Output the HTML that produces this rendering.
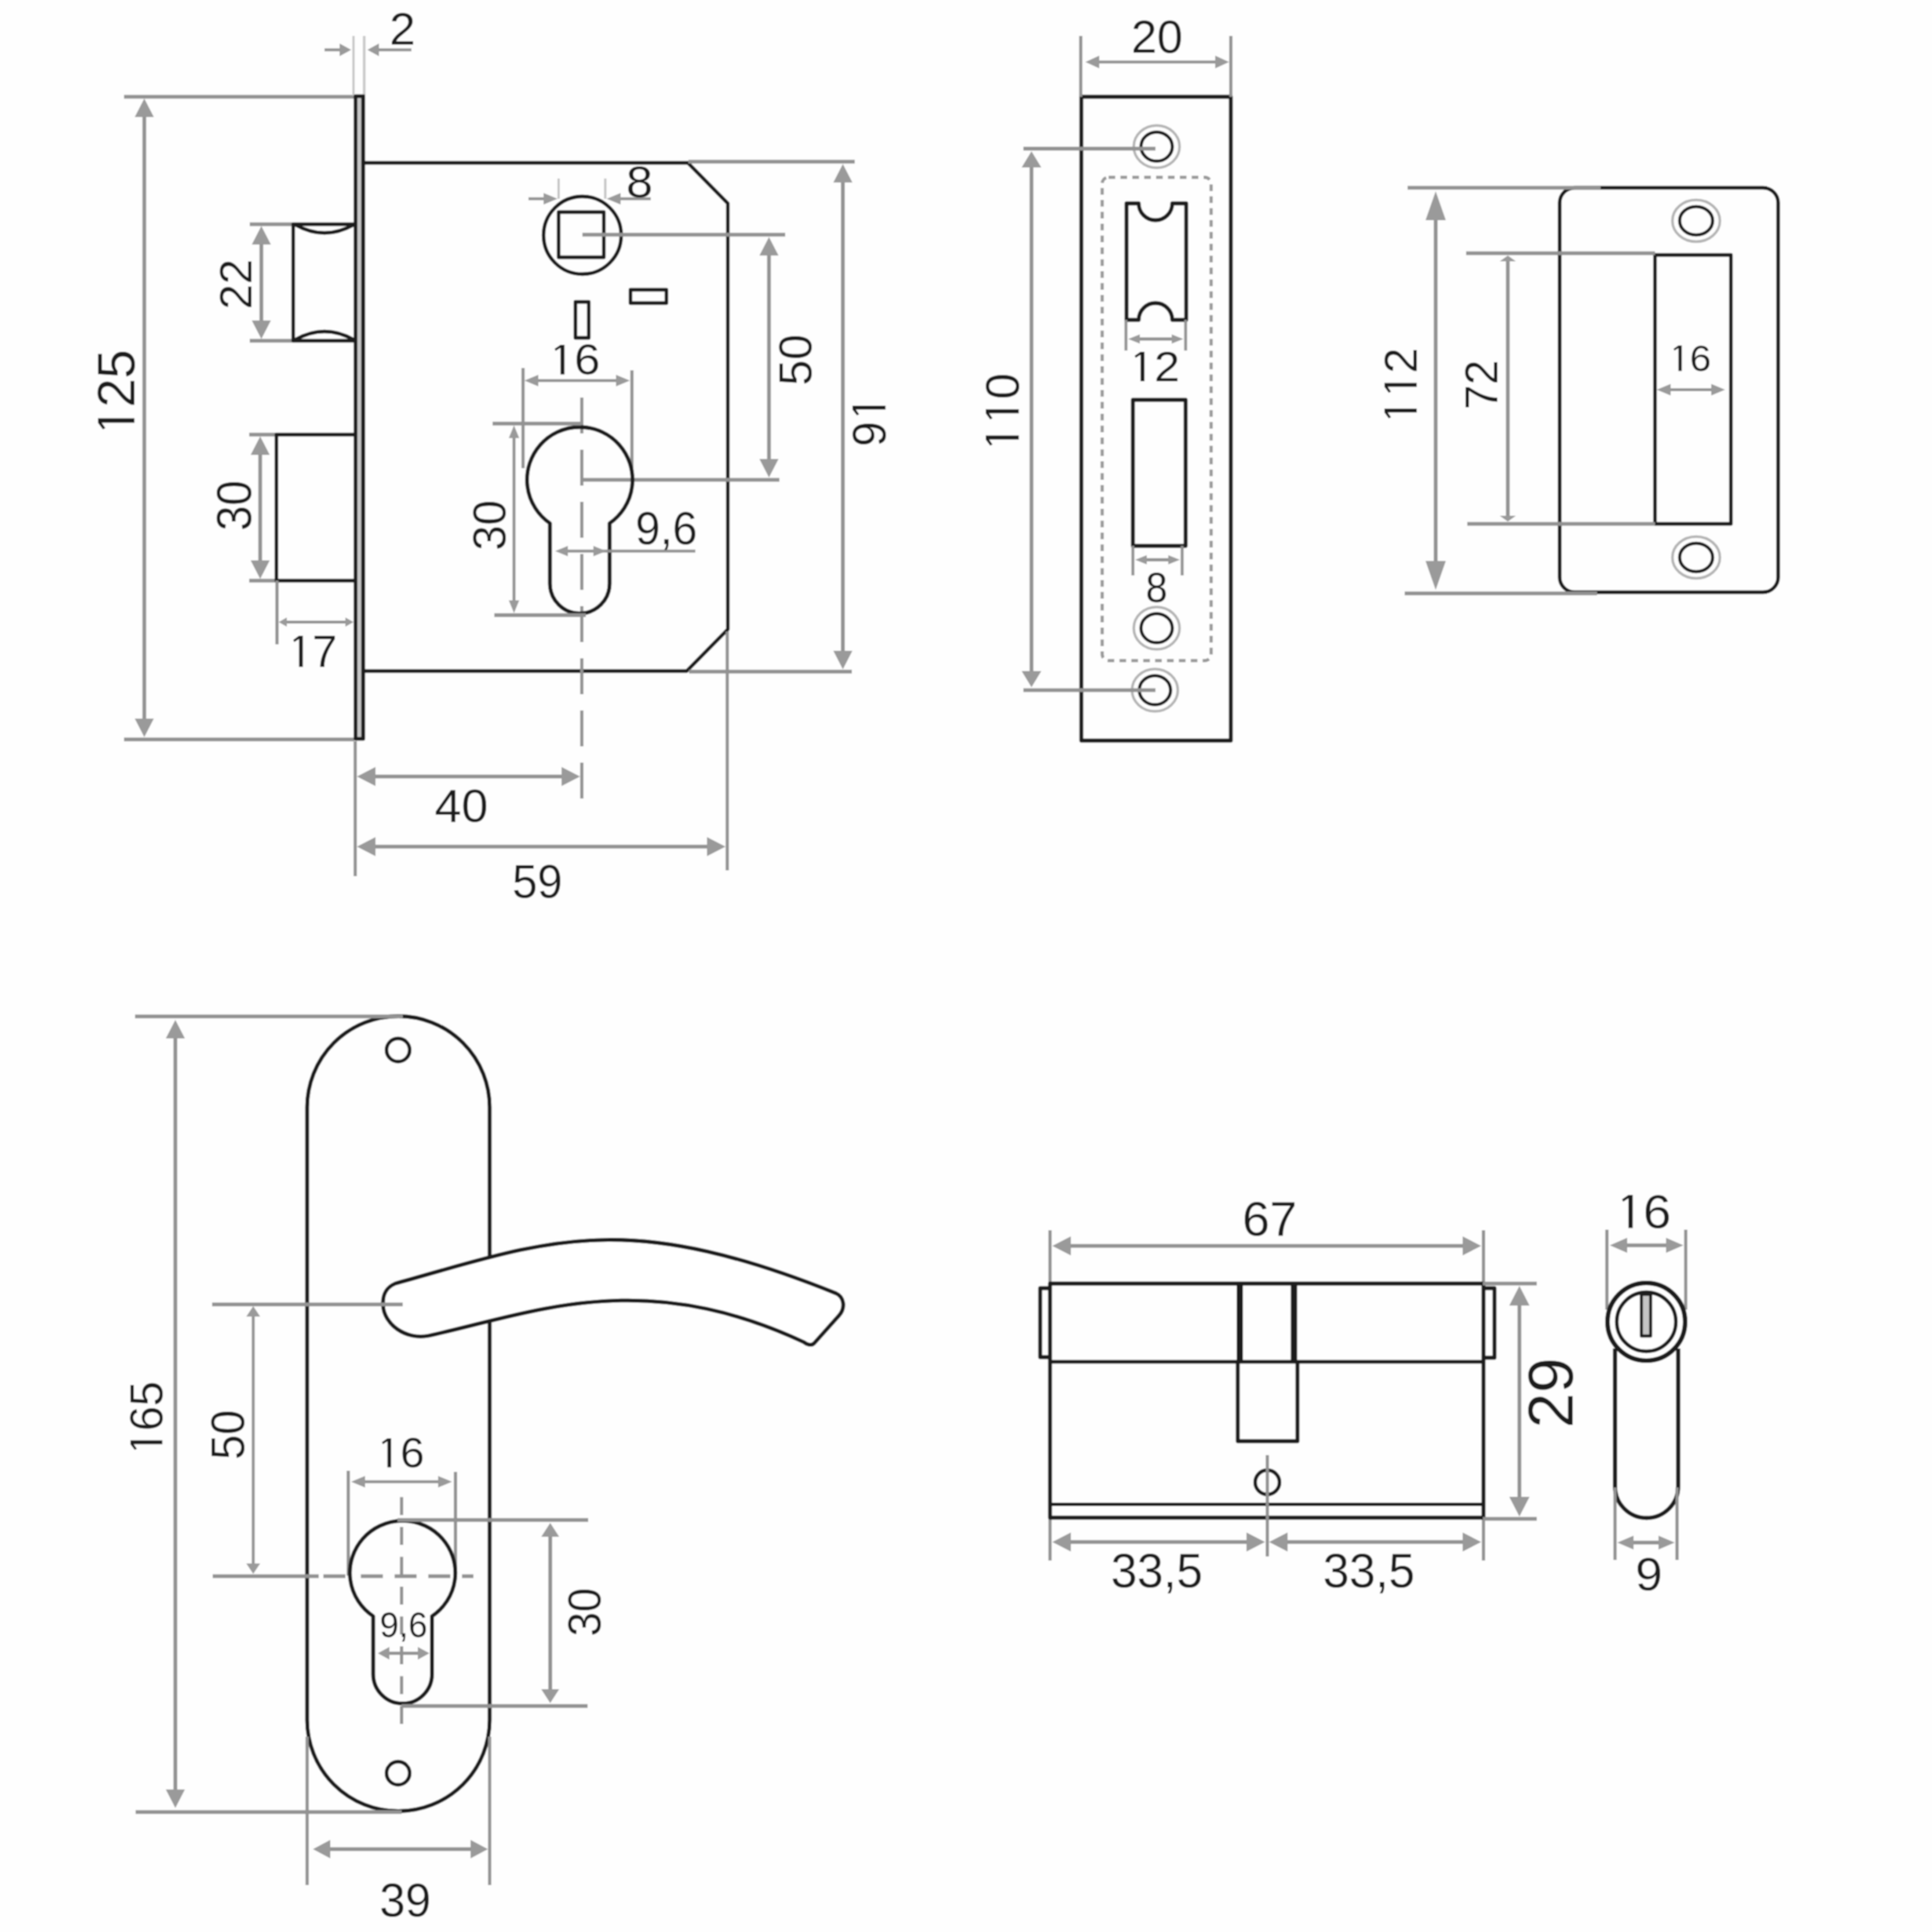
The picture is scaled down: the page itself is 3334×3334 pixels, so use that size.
<!DOCTYPE html>
<html><head><meta charset="utf-8"><style>
html,body{margin:0;padding:0;background:#fff;}
svg{display:block;}
text{font-family:"Liberation Sans",sans-serif;fill:#1e1e1e;}
</style></head><body>
<svg width="3334" height="3334" viewBox="0 0 3334 3334">
<defs><filter id="bl" x="0" y="0" width="3334" height="3334" filterUnits="userSpaceOnUse"><feGaussianBlur stdDeviation="1.3"/></filter></defs>
<rect width="3334" height="3334" fill="#fefefe"/>
<g filter="url(#bl)">
<rect width="3334" height="3334" fill="#fefefe"/>
<line x1="214" y1="167" x2="611" y2="167" stroke="#929292" stroke-width="6.5" />
<line x1="214" y1="1276" x2="611" y2="1276" stroke="#929292" stroke-width="6.5" />
<line x1="249" y1="189.2" x2="249" y2="1252.8" stroke="#929292" stroke-width="6.5" />
<polygon points="249.0,170.0 232.5,202.0 265.5,202.0" fill="#9a9a9a"/>
<polygon points="249.0,1272.0 232.5,1240.0 265.5,1240.0" fill="#9a9a9a"/>
<line x1="610" y1="62" x2="610" y2="165" stroke="#c8c8c8" stroke-width="4" />
<line x1="628.5" y1="62" x2="628.5" y2="165" stroke="#c8c8c8" stroke-width="4.5" />
<line x1="560" y1="86" x2="590" y2="86" stroke="#929292" stroke-width="5" />
<polygon points="606.0,86.0 586.0,75.0 586.0,97.0" fill="#9a9a9a"/>
<line x1="650" y1="86" x2="710" y2="86" stroke="#929292" stroke-width="5" />
<polygon points="634.0,86.0 654.0,75.0 654.0,97.0" fill="#9a9a9a"/>
<rect x="614" y="166" width="12" height="1109" fill="#c8c8c8"/>
<path d="M613.5,166 H627 V1275 H613.5 Z" stroke="#1c1c1c" stroke-width="6.3" fill="none" stroke-linejoin="round" />
<line x1="626.5" y1="166" x2="626.5" y2="1275" stroke="#1c1c1c" stroke-width="6" />
<path d="M628,281 H1187 L1256,351 V1086 L1185,1158 H628" stroke="#1c1c1c" stroke-width="6.3" fill="none" stroke-linejoin="round" />
<line x1="431" y1="387" x2="506" y2="387" stroke="#929292" stroke-width="6.5" />
<line x1="431" y1="588" x2="506" y2="588" stroke="#929292" stroke-width="6.5" />
<line x1="451" y1="409.2" x2="451" y2="565.8" stroke="#929292" stroke-width="6.5" />
<polygon points="451.0,390.0 434.5,422.0 467.5,422.0" fill="#9a9a9a"/>
<polygon points="451.0,585.0 434.5,553.0 467.5,553.0" fill="#9a9a9a"/>
<path d="M612,387 H506 V588 H612" stroke="#1c1c1c" stroke-width="6.3" fill="none" stroke-linejoin="round" />
<path d="M510,388 Q560,416 610,388" stroke="#1c1c1c" stroke-width="6.3" fill="none" stroke-linejoin="round" />
<path d="M510,586 Q560,558 610,586" stroke="#1c1c1c" stroke-width="6.3" fill="none" stroke-linejoin="round" />
<line x1="430" y1="750" x2="477" y2="750" stroke="#929292" stroke-width="6.5" />
<line x1="430" y1="1002" x2="477" y2="1002" stroke="#929292" stroke-width="6.5" />
<line x1="449" y1="772.2" x2="449" y2="979.8" stroke="#929292" stroke-width="6.5" />
<polygon points="449.0,753.0 432.5,785.0 465.5,785.0" fill="#9a9a9a"/>
<polygon points="449.0,999.0 432.5,967.0 465.5,967.0" fill="#9a9a9a"/>
<path d="M612,750 H477 V1002 H612" stroke="#1c1c1c" stroke-width="6.3" fill="none" stroke-linejoin="round" />
<line x1="478" y1="1002" x2="478" y2="1112" stroke="#929292" stroke-width="5.5" />
<line x1="490" y1="1073.5" x2="600" y2="1073.5" stroke="#929292" stroke-width="5" />
<polygon points="481.0,1073.5 495.0,1065.5 495.0,1081.5" fill="#9a9a9a"/>
<polygon points="610.0,1073.5 596.0,1065.5 596.0,1081.5" fill="#9a9a9a"/>
<line x1="613" y1="1279" x2="613" y2="1512" stroke="#929292" stroke-width="5.5" />
<line x1="1255" y1="1090" x2="1255" y2="1502" stroke="#929292" stroke-width="5.5" />
<line x1="635.2" y1="1340" x2="981.8" y2="1340" stroke="#929292" stroke-width="6.5" />
<polygon points="616.0,1340.0 648.0,1323.5 648.0,1356.5" fill="#9a9a9a"/>
<polygon points="1001.0,1340.0 969.0,1323.5 969.0,1356.5" fill="#9a9a9a"/>
<line x1="635.2" y1="1461" x2="1232.8" y2="1461" stroke="#929292" stroke-width="6.5" />
<polygon points="616.0,1461.0 648.0,1444.5 648.0,1477.5" fill="#9a9a9a"/>
<polygon points="1252.0,1461.0 1220.0,1444.5 1220.0,1477.5" fill="#9a9a9a"/>
<line x1="1004" y1="686" x2="1004" y2="1378" stroke="#929292" stroke-width="5.5" stroke-dasharray="62 28"/>
<line x1="1188" y1="279" x2="1475" y2="279" stroke="#929292" stroke-width="6.5" />
<line x1="1189" y1="1159" x2="1470" y2="1159" stroke="#929292" stroke-width="6.5" />
<line x1="1454.5" y1="302.2" x2="1454.5" y2="1135.8" stroke="#929292" stroke-width="6.5" />
<polygon points="1454.5,283.0 1438.0,315.0 1471.0,315.0" fill="#9a9a9a"/>
<polygon points="1454.5,1155.0 1438.0,1123.0 1471.0,1123.0" fill="#9a9a9a"/>
<circle cx="1005" cy="406" r="67" stroke="#1c1c1c" stroke-width="6.3" fill="none"/>
<path d="M964,366 H1042 V444 H964 Z" stroke="#1c1c1c" stroke-width="6.3" fill="none" stroke-linejoin="round" />
<line x1="964" y1="308" x2="964" y2="343" stroke="#c4c4c4" stroke-width="4" />
<line x1="1044.5" y1="308" x2="1044.5" y2="343" stroke="#c4c4c4" stroke-width="4" />
<line x1="912" y1="343" x2="940" y2="343" stroke="#929292" stroke-width="5" />
<polygon points="962.0,343.0 938.0,333.0 938.0,353.0" fill="#9a9a9a"/>
<line x1="1070" y1="343" x2="1123" y2="343" stroke="#929292" stroke-width="5" />
<polygon points="1047.0,343.0 1071.0,333.0 1071.0,353.0" fill="#9a9a9a"/>
<line x1="1005" y1="405" x2="1355" y2="405" stroke="#929292" stroke-width="6.5" />
<line x1="1005" y1="828" x2="1345" y2="828" stroke="#929292" stroke-width="6.5" />
<line x1="1327" y1="428.2" x2="1327" y2="804.8" stroke="#929292" stroke-width="6.5" />
<polygon points="1327.0,409.0 1310.5,441.0 1343.5,441.0" fill="#9a9a9a"/>
<polygon points="1327.0,824.0 1310.5,792.0 1343.5,792.0" fill="#9a9a9a"/>
<path d="M1088,500 H1150 V523 H1088 Z" stroke="#1c1c1c" stroke-width="6.3" fill="none" stroke-linejoin="round" />
<path d="M993,521 H1016 V583 H993 Z" stroke="#1c1c1c" stroke-width="6.3" fill="none" stroke-linejoin="round" />
<line x1="902.6" y1="635" x2="902.6" y2="808" stroke="#929292" stroke-width="5.5" />
<line x1="1090.5" y1="639" x2="1090.5" y2="815" stroke="#929292" stroke-width="5.5" />
<line x1="919.4" y1="656.7" x2="1072.6" y2="656.7" stroke="#929292" stroke-width="5" />
<polygon points="905.0,656.7 929.0,646.7 929.0,666.7" fill="#9a9a9a"/>
<polygon points="1087.0,656.7 1063.0,646.7 1063.0,666.7" fill="#9a9a9a"/>
<path d="M949,903 A91,91 0 1 1 1052,903 V1007 A51.5,51.5 0 0 1 949,1007 Z" stroke="#1c1c1c" stroke-width="6.8" fill="none" stroke-linejoin="round" />
<line x1="850" y1="731" x2="1003" y2="731" stroke="#929292" stroke-width="6.5" />
<line x1="853" y1="1061.5" x2="1011" y2="1061.5" stroke="#929292" stroke-width="6.5" />
<line x1="887" y1="747.2" x2="887" y2="1044.8" stroke="#929292" stroke-width="5" />
<polygon points="887.0,734.0 878.0,756.0 896.0,756.0" fill="#9a9a9a"/>
<polygon points="887.0,1058.0 878.0,1036.0 896.0,1036.0" fill="#9a9a9a"/>
<line x1="980" y1="951" x2="1200" y2="951" stroke="#929292" stroke-width="5" />
<polygon points="958.0,951.0 980.0,942.0 980.0,960.0" fill="#9a9a9a"/>
<polygon points="1046.0,951.0 1024.0,942.0 1024.0,960.0" fill="#9a9a9a"/>
<path d="M1866,167 H2124 V1278 H1866 Z" stroke="#1c1c1c" stroke-width="6.8" fill="none" stroke-linejoin="round" />
<line x1="1865" y1="62" x2="1865" y2="167" stroke="#929292" stroke-width="5.5" />
<line x1="2124" y1="62" x2="2124" y2="167" stroke="#929292" stroke-width="5.5" />
<line x1="1887.4" y1="107" x2="2106.6" y2="107" stroke="#929292" stroke-width="5" />
<polygon points="1873.0,107.0 1897.0,96.0 1897.0,118.0" fill="#9a9a9a"/>
<polygon points="2121.0,107.0 2097.0,96.0 2097.0,118.0" fill="#9a9a9a"/>
<ellipse cx="1996" cy="253" rx="39.5" ry="36.5" stroke="#b4b4b4" stroke-width="4.5" fill="none"/>
<ellipse cx="1996" cy="253" rx="27" ry="25" stroke="#1c1c1c" stroke-width="5.5" fill="none"/>
<ellipse cx="1996" cy="1084" rx="39.5" ry="36.5" stroke="#b4b4b4" stroke-width="4.5" fill="none"/>
<ellipse cx="1996" cy="1084" rx="27" ry="25" stroke="#1c1c1c" stroke-width="5.5" fill="none"/>
<ellipse cx="1993" cy="1191" rx="39.5" ry="36.5" stroke="#b4b4b4" stroke-width="4.5" fill="none"/>
<ellipse cx="1993" cy="1191" rx="27" ry="25" stroke="#1c1c1c" stroke-width="5.5" fill="none"/>
<line x1="1766" y1="256.5" x2="1994" y2="256.5" stroke="#929292" stroke-width="6.5" />
<line x1="1766" y1="1191" x2="1994" y2="1191" stroke="#929292" stroke-width="6.5" />
<line x1="1780" y1="277.8" x2="1780" y2="1169.2" stroke="#929292" stroke-width="6.5" />
<polygon points="1780.0,261.0 1763.0,289.0 1797.0,289.0" fill="#9a9a9a"/>
<polygon points="1780.0,1186.0 1763.0,1158.0 1797.0,1158.0" fill="#9a9a9a"/>
<rect x="1902" y="306" width="188" height="834" rx="11" stroke="#999" stroke-width="5.5" fill="none" stroke-dasharray="11.5 9"/>
<path d="M1944,351 H1965 A29,29 0 0 0 2023,351 H2047 V552 H2023 A29,29 0 0 0 1965,552 H1944 Z" stroke="#1c1c1c" stroke-width="6.8" fill="none" stroke-linejoin="round" />
<line x1="1943" y1="552" x2="1943" y2="605" stroke="#929292" stroke-width="5" />
<line x1="2046" y1="552" x2="2046" y2="605" stroke="#929292" stroke-width="5" />
<line x1="1959.0" y1="585" x2="2030.0" y2="585" stroke="#929292" stroke-width="5.5" />
<polygon points="1947.0,585.0 1967.0,577.0 1967.0,593.0" fill="#9a9a9a"/>
<polygon points="2042.0,585.0 2022.0,577.0 2022.0,593.0" fill="#9a9a9a"/>
<path d="M1955,690 H2046 V942 H1955 Z" stroke="#1c1c1c" stroke-width="6.8" fill="none" stroke-linejoin="round" />
<line x1="1955" y1="942" x2="1955" y2="993" stroke="#929292" stroke-width="5" />
<line x1="2040" y1="942" x2="2040" y2="993" stroke="#929292" stroke-width="5" />
<line x1="1971.0" y1="966" x2="2024.0" y2="966" stroke="#929292" stroke-width="5.5" />
<polygon points="1959.0,966.0 1979.0,958.0 1979.0,974.0" fill="#9a9a9a"/>
<polygon points="2036.0,966.0 2016.0,958.0 2016.0,974.0" fill="#9a9a9a"/>
<rect x="2691.5" y="324" width="377" height="698" rx="26" stroke="#1c1c1c" stroke-width="6.3" fill="none"/>
<line x1="2429" y1="324" x2="2762" y2="324" stroke="#929292" stroke-width="6.5" />
<line x1="2424" y1="1024" x2="2756" y2="1024" stroke="#929292" stroke-width="6.5" />
<line x1="2477.5" y1="360.0" x2="2477.5" y2="988.0" stroke="#929292" stroke-width="6.5" />
<polygon points="2477.5,330.0 2460.0,380.0 2495.0,380.0" fill="#9a9a9a"/>
<polygon points="2477.5,1018.0 2460.0,968.0 2495.0,968.0" fill="#9a9a9a"/>
<path d="M2856,440 H2987 V904 H2856 Z" stroke="#1c1c1c" stroke-width="6.3" fill="none" stroke-linejoin="round" />
<line x1="2530" y1="437" x2="2856" y2="437" stroke="#929292" stroke-width="6.5" />
<line x1="2532" y1="904" x2="2856" y2="904" stroke="#929292" stroke-width="6.5" />
<line x1="2602" y1="447.0" x2="2602" y2="894.0" stroke="#929292" stroke-width="6.5" />
<polygon points="2602.0,441.0 2588.0,451.0 2616.0,451.0" fill="#9a9a9a"/>
<polygon points="2602.0,900.0 2588.0,890.0 2616.0,890.0" fill="#9a9a9a"/>
<line x1="2873.4" y1="672.4" x2="2962.6" y2="672.4" stroke="#929292" stroke-width="5" />
<polygon points="2859.0,672.4 2883.0,662.4 2883.0,682.4" fill="#9a9a9a"/>
<polygon points="2977.0,672.4 2953.0,662.4 2953.0,682.4" fill="#9a9a9a"/>
<ellipse cx="2927" cy="381" rx="41" ry="36" stroke="#b4b4b4" stroke-width="4.5" fill="none"/>
<ellipse cx="2927" cy="381" rx="28.5" ry="24.5" stroke="#1c1c1c" stroke-width="5.5" fill="none"/>
<ellipse cx="2927" cy="962" rx="41" ry="36" stroke="#b4b4b4" stroke-width="4.5" fill="none"/>
<ellipse cx="2927" cy="962" rx="28.5" ry="24.5" stroke="#1c1c1c" stroke-width="5.5" fill="none"/>
<path d="M530,1911 A157.5,157.5 0 0 1 845,1911 V2968 A157.5,157.5 0 0 1 530,2968 Z" stroke="#1c1c1c" stroke-width="6.8" fill="none" stroke-linejoin="round" />
<path d="M682,2215 C944,2142 1073,2083 1443,2232 C1456,2238 1460,2256 1448,2270 L1405,2318 C1400,2323 1392,2320 1387,2316 C1108,2186 925,2264 740,2305 C700,2313 662,2285 661,2252 C660,2234 666,2222 682,2215 Z" stroke="#1c1c1c" stroke-width="6.8" fill="#fff" stroke-linejoin="round" />
<circle cx="687" cy="1812" r="20" stroke="#1c1c1c" stroke-width="6.3" fill="none"/>
<circle cx="687" cy="3060" r="20" stroke="#1c1c1c" stroke-width="6.3" fill="none"/>
<line x1="233" y1="1754" x2="695" y2="1754" stroke="#929292" stroke-width="6.5" />
<line x1="234" y1="3127" x2="693" y2="3127" stroke="#929292" stroke-width="6.5" />
<line x1="302.6" y1="1779.2" x2="302.6" y2="3100.8" stroke="#929292" stroke-width="6.5" />
<polygon points="302.6,1760.0 286.1,1792.0 319.1,1792.0" fill="#9a9a9a"/>
<polygon points="302.6,3120.0 286.1,3088.0 319.1,3088.0" fill="#9a9a9a"/>
<line x1="366" y1="2251" x2="695" y2="2251" stroke="#929292" stroke-width="6.5" />
<line x1="367" y1="2720" x2="550" y2="2720" stroke="#929292" stroke-width="6.5" />
<line x1="558" y1="2720" x2="596" y2="2720" stroke="#929292" stroke-width="6.5" />
<line x1="622.7" y1="2720" x2="817" y2="2720" stroke="#929292" stroke-width="6.5" stroke-dasharray="38 20.2"/>
<line x1="437" y1="2264.8" x2="437" y2="2705.2" stroke="#929292" stroke-width="5" />
<polygon points="437.0,2254.0 425.0,2272.0 449.0,2272.0" fill="#9a9a9a"/>
<polygon points="437.0,2716.0 425.0,2698.0 449.0,2698.0" fill="#9a9a9a"/>
<line x1="601" y1="2538" x2="601" y2="2719" stroke="#929292" stroke-width="5.5" />
<line x1="786" y1="2540" x2="786" y2="2709" stroke="#929292" stroke-width="5.5" />
<line x1="620.4" y1="2557" x2="765.6" y2="2557" stroke="#929292" stroke-width="5" />
<polygon points="606.0,2557.0 630.0,2547.0 630.0,2567.0" fill="#9a9a9a"/>
<polygon points="780.0,2557.0 756.0,2547.0 756.0,2567.0" fill="#9a9a9a"/>
<path d="M644,2789 A91,90 0 1 1 745.5,2789 V2889 A50.75,50.75 0 0 1 644,2889 Z" stroke="#1c1c1c" stroke-width="6.8" fill="none" stroke-linejoin="round" />
<line x1="693" y1="2583.5" x2="693" y2="2978" stroke="#929292" stroke-width="5.5" stroke-dasharray="31 20.5"/>
<line x1="686" y1="2623" x2="1015" y2="2623" stroke="#929292" stroke-width="6.5" />
<line x1="693" y1="2944" x2="1014" y2="2944" stroke="#929292" stroke-width="6.5" />
<line x1="949.5" y1="2642.4" x2="949.5" y2="2924.6" stroke="#929292" stroke-width="6.5" />
<polygon points="949.5,2628.0 934.0,2652.0 965.0,2652.0" fill="#9a9a9a"/>
<polygon points="949.5,2939.0 934.0,2915.0 965.0,2915.0" fill="#9a9a9a"/>
<line x1="665" y1="2853" x2="728" y2="2853" stroke="#929292" stroke-width="5.5" />
<polygon points="652.0,2853.0 672.0,2842.0 672.0,2864.0" fill="#9a9a9a"/>
<polygon points="741.0,2853.0 721.0,2842.0 721.0,2864.0" fill="#9a9a9a"/>
<line x1="530" y1="2997" x2="530" y2="3253" stroke="#929292" stroke-width="5.5" />
<line x1="845" y1="2997" x2="845" y2="3253" stroke="#929292" stroke-width="5.5" />
<line x1="558.0" y1="3191" x2="824.0" y2="3191" stroke="#929292" stroke-width="6.5" />
<polygon points="540.0,3191.0 570.0,3175.0 570.0,3207.0" fill="#9a9a9a"/>
<polygon points="842.0,3191.0 812.0,3175.0 812.0,3207.0" fill="#9a9a9a"/>
<line x1="1812" y1="2123" x2="1812" y2="2693" stroke="#929292" stroke-width="5.5" />
<line x1="2560" y1="2123" x2="2560" y2="2693" stroke="#929292" stroke-width="5.5" />
<line x1="1835.2" y1="2150" x2="2536.8" y2="2150" stroke="#929292" stroke-width="6.5" />
<polygon points="1816.0,2150.0 1848.0,2133.5 1848.0,2166.5" fill="#9a9a9a"/>
<polygon points="2556.0,2150.0 2524.0,2133.5 2524.0,2166.5" fill="#9a9a9a"/>
<path d="M1812,2215 H2560 V2619 H1812 Z" stroke="#1c1c1c" stroke-width="6.8" fill="none" stroke-linejoin="round" />
<line x1="1812" y1="2350" x2="2560" y2="2350" stroke="#1c1c1c" stroke-width="6.5" />
<line x1="1812" y1="2596" x2="2560" y2="2596" stroke="#1c1c1c" stroke-width="6" />
<path d="M1814,2223 H1795 V2342 H1814" stroke="#1c1c1c" stroke-width="6.8" fill="none" stroke-linejoin="round" />
<path d="M2560,2223 H2579 V2343 H2560" stroke="#1c1c1c" stroke-width="6.8" fill="none" stroke-linejoin="round" />
<line x1="2139.5" y1="2215" x2="2139.5" y2="2350" stroke="#1c1c1c" stroke-width="11" />
<line x1="2233" y1="2215" x2="2233" y2="2350" stroke="#1c1c1c" stroke-width="11" />
<path d="M2136,2350 V2487 H2239 V2350" stroke="#1c1c1c" stroke-width="6.8" fill="none" stroke-linejoin="round" />
<circle cx="2187" cy="2558" r="21" stroke="#1c1c1c" stroke-width="6.3" fill="none"/>
<line x1="2187" y1="2511" x2="2187" y2="2686" stroke="#929292" stroke-width="5.5" />
<line x1="2559" y1="2215" x2="2652" y2="2215" stroke="#929292" stroke-width="6.5" />
<line x1="2559" y1="2621" x2="2652" y2="2621" stroke="#929292" stroke-width="6.5" />
<line x1="2622" y1="2239.4" x2="2622" y2="2596.6" stroke="#929292" stroke-width="6.5" />
<polygon points="2622.0,2219.0 2604.5,2253.0 2639.5,2253.0" fill="#9a9a9a"/>
<polygon points="2622.0,2617.0 2604.5,2583.0 2639.5,2583.0" fill="#9a9a9a"/>
<line x1="1835.2" y1="2661" x2="2163.8" y2="2661" stroke="#929292" stroke-width="6.5" />
<polygon points="1816.0,2661.0 1848.0,2644.5 1848.0,2677.5" fill="#9a9a9a"/>
<polygon points="2183.0,2661.0 2151.0,2644.5 2151.0,2677.5" fill="#9a9a9a"/>
<line x1="2209.2" y1="2661" x2="2536.8" y2="2661" stroke="#929292" stroke-width="6.5" />
<polygon points="2190.0,2661.0 2222.0,2644.5 2222.0,2677.5" fill="#9a9a9a"/>
<polygon points="2556.0,2661.0 2524.0,2644.5 2524.0,2677.5" fill="#9a9a9a"/>
<line x1="2773" y1="2122" x2="2773" y2="2260" stroke="#929292" stroke-width="5.5" />
<line x1="2909" y1="2122" x2="2909" y2="2260" stroke="#929292" stroke-width="5.5" />
<line x1="2796.0" y1="2149" x2="2887.0" y2="2149" stroke="#929292" stroke-width="6.5" />
<polygon points="2778.0,2149.0 2808.0,2136.0 2808.0,2162.0" fill="#9a9a9a"/>
<polygon points="2905.0,2149.0 2875.0,2136.0 2875.0,2162.0" fill="#9a9a9a"/>
<path d="M2787,2327 V2565 A54.5,54.5 0 0 0 2896,2565 V2327" stroke="#1c1c1c" stroke-width="7.3" fill="none" stroke-linejoin="round" />
<circle cx="2841" cy="2281" r="67" stroke="#1c1c1c" stroke-width="8" fill="#fff"/>
<circle cx="2841" cy="2281" r="51" stroke="#1c1c1c" stroke-width="6.3" fill="none"/>
<path d="M2832.5,2233.5 H2848.5 V2305.5 H2832.5 Z" stroke="#1c1c1c" stroke-width="5.3" fill="#c4c4c4" stroke-linejoin="round" />
<line x1="2787" y1="2567" x2="2787" y2="2692" stroke="#929292" stroke-width="5.5" />
<line x1="2894" y1="2567" x2="2894" y2="2692" stroke="#929292" stroke-width="5.5" />
<line x1="2807.8" y1="2662" x2="2873.2" y2="2662" stroke="#929292" stroke-width="6.5" />
<polygon points="2791.0,2662.0 2819.0,2650.0 2819.0,2674.0" fill="#9a9a9a"/>
<polygon points="2890.0,2662.0 2862.0,2650.0 2862.0,2674.0" fill="#9a9a9a"/>
<g transform="translate(232.10,753.03) rotate(-90) scale(0.08981,0.09040)"><text x="556.2 1112.3" y="0" font-size="1000">25</text><path fill="#1e1e1e" d="M262,-698 L348,-698 L348,0 L262,0 L262,-625 L158,-555 L134,-603 Z"/></g>
<g transform="translate(671.94,77.00) scale(0.08114,0.07736)"><text x="0.0" y="0" font-size="1000">2</text></g>
<g transform="translate(434.00,533.90) rotate(-90) scale(0.07806,0.07736)"><text x="0.0 556.2" y="0" font-size="1000">22</text></g>
<g transform="translate(433.15,915.97) rotate(-90) scale(0.07826,0.08475)"><text x="0.0 556.2" y="0" font-size="1000">30</text></g>
<g transform="translate(495.60,1150.92) scale(0.07759,0.07725)"><text x="556.2" y="0" font-size="1000">7</text><path fill="#1e1e1e" d="M262,-698 L348,-698 L348,0 L262,0 L262,-625 L158,-555 L134,-603 Z"/></g>
<g transform="translate(750.09,1418.19) scale(0.08286,0.08051)"><text x="0.0 556.2" y="0" font-size="1000">40</text></g>
<g transform="translate(883.88,1549.18) scale(0.07805,0.08192)"><text x="0.0 556.2" y="0" font-size="1000">59</text></g>
<g transform="translate(1528.18,770.67) rotate(-90) scale(0.07809,0.08192)"><text x="0.0" y="0" font-size="1000">9</text><path fill="#1e1e1e" d="M818,-698 L904,-698 L904,0 L818,0 L818,-625 L714,-555 L690,-603 Z"/></g>
<g transform="translate(1080.43,340.24) scale(0.08298,0.07627)"><text x="0.0" y="0" font-size="1000">8</text></g>
<g transform="translate(1400.21,665.18) rotate(-90) scale(0.07938,0.07910)"><text x="0.0 556.2" y="0" font-size="1000">50</text></g>
<g transform="translate(946.24,646.27) scale(0.08030,0.07345)"><text x="556.2" y="0" font-size="1000">6</text><path fill="#1e1e1e" d="M262,-698 L348,-698 L348,0 L262,0 L262,-625 L158,-555 L134,-603 Z"/></g>
<g transform="translate(872.19,949.97) rotate(-90) scale(0.07826,0.08051)"><text x="0.0 556.2" y="0" font-size="1000">30</text></g>
<g transform="translate(1096.38,938.77) scale(0.07698,0.07990)"><text x="0.0 556.2 834.0" y="0" font-size="1000">9,6</text></g>
<g transform="translate(1951.99,91.21) scale(0.08016,0.07910)"><text x="0.0 556.2" y="0" font-size="1000">20</text></g>
<g transform="translate(1758.18,779.94) rotate(-90) scale(0.08161,0.08192)"><text x="1112.3" y="0" font-size="1000">0</text><path fill="#1e1e1e" d="M262,-698 L348,-698 L348,0 L262,0 L262,-625 L158,-555 L134,-603 Z"/><path fill="#1e1e1e" d="M818,-698 L904,-698 L904,0 L818,0 L818,-625 L714,-555 L690,-603 Z"/></g>
<g transform="translate(1947.31,657.93) scale(0.07974,0.07296)"><text x="556.2" y="0" font-size="1000">2</text><path fill="#1e1e1e" d="M262,-698 L348,-698 L348,0 L262,0 L262,-625 L158,-555 L134,-603 Z"/></g>
<g transform="translate(1977.07,1039.28) scale(0.06809,0.07203)"><text x="0.0" y="0" font-size="1000">8</text></g>
<g transform="translate(2444.92,732.65) rotate(-90) scale(0.07951,0.08011)"><text x="1112.3" y="0" font-size="1000">2</text><path fill="#1e1e1e" d="M262,-698 L348,-698 L348,0 L262,0 L262,-625 L158,-555 L134,-603 Z"/><path fill="#1e1e1e" d="M818,-698 L904,-698 L904,0 L818,0 L818,-625 L714,-555 L690,-603 Z"/></g>
<g transform="translate(2584.00,706.93) rotate(-90) scale(0.07715,0.08023)"><text x="0.0 556.2" y="0" font-size="1000">72</text></g>
<g transform="translate(2879.10,640.36) scale(0.06638,0.06356)"><text x="556.2" y="0" font-size="1000">6</text><path fill="#1e1e1e" d="M262,-698 L348,-698 L348,0 L262,0 L262,-625 L158,-555 L134,-603 Z"/></g>
<g transform="translate(280.21,2512.33) rotate(-90) scale(0.07708,0.07910)"><text x="556.2 1112.3" y="0" font-size="1000">65</text><path fill="#1e1e1e" d="M262,-698 L348,-698 L348,0 L262,0 L262,-625 L158,-555 L134,-603 Z"/></g>
<g transform="translate(421.18,2519.10) rotate(-90) scale(0.07744,0.08192)"><text x="0.0 556.2" y="0" font-size="1000">50</text></g>
<g transform="translate(648.96,2532.28) scale(0.07495,0.07203)"><text x="556.2" y="0" font-size="1000">6</text><path fill="#1e1e1e" d="M262,-698 L348,-698 L348,0 L262,0 L262,-625 L158,-555 L134,-603 Z"/></g>
<g transform="translate(1036.19,2823.86) rotate(-90) scale(0.07536,0.08051)"><text x="0.0 556.2" y="0" font-size="1000">30</text></g>
<g transform="translate(655.21,2825.25) scale(0.05928,0.06053)"><text x="0.0 556.2 834.0" y="0" font-size="1000">9,6</text></g>
<g transform="translate(654.97,3307.18) scale(0.07984,0.08192)"><text x="0.0 556.2" y="0" font-size="1000">39</text></g>
<g transform="translate(2143.66,2132.17) scale(0.08506,0.08333)"><text x="0.0 556.2" y="0" font-size="1000">67</text></g>
<g transform="translate(2713.90,2464.47) rotate(-90) scale(0.10936,0.11017)"><text x="0.0 556.2" y="0" font-size="1000">29</text></g>
<g transform="translate(1916.90,2739.31) scale(0.08146,0.08354)"><text x="0.0 556.2 1112.3 1390.1" y="0" font-size="1000">33,5</text></g>
<g transform="translate(2282.90,2739.31) scale(0.08146,0.08354)"><text x="0.0 556.2 1112.3 1390.1" y="0" font-size="1000">33,5</text></g>
<g transform="translate(2787.38,2119.18) scale(0.08672,0.08192)"><text x="556.2" y="0" font-size="1000">6</text><path fill="#1e1e1e" d="M262,-698 L348,-698 L348,0 L262,0 L262,-625 L158,-555 L134,-603 Z"/></g>
<g transform="translate(2822.03,2744.21) scale(0.08442,0.07910)"><text x="0.0" y="0" font-size="1000">9</text></g>
</g>
</svg></body></html>
